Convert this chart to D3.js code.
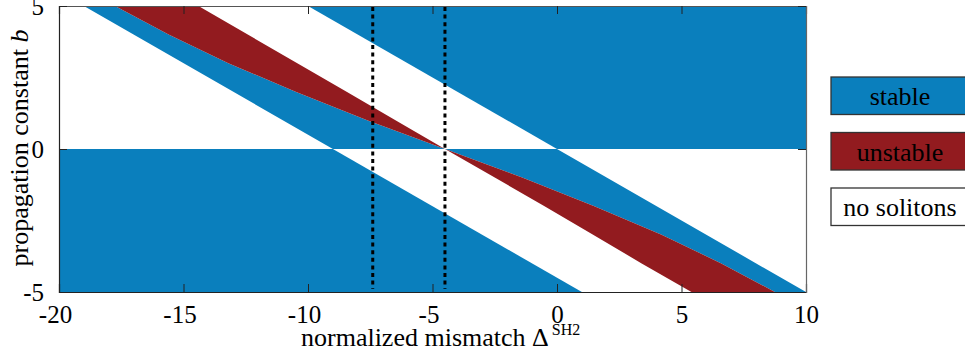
<!DOCTYPE html>
<html>
<head>
<meta charset="utf-8">
<script src="https://cdn.jsdelivr.net/npm/d3@7"></script>
<style>
  html, body { margin: 0; padding: 0; background: #fff; }
  svg { display: block; }
</style>
</head>
<body>
<svg width="965" height="360"></svg>
<script>
// axis ticks
var xTicks = [-20, -15, -10, -5, 0, 5, 10]
var yTicks = [-5, 0, 5]

// boundary lines, as [mismatch, b]
var stableEdgeRight = [[-10, 5], [0, 0], [10, -5]]   // b = -D/2
var stableEdgeLeft = [[-19, 5], [-9, 0], [1, -5]]    // b = -(D+9)/2

// unstable band, upper half (b > 0)
var redTopUpper = [[-14.4, 5], [-12.42, 4], [-10.43, 3], [-8.45, 2], [-6.47, 1], [-4.5, 0]]
var redBotUpper = [[-17.75, 5], [-15.6, 4], [-13.2, 3], [-10.5, 2], [-7.6, 1], [-4.5, 0]]
// unstable band, lower half (b < 0)
var redTopLower = [[-4.5, 0], [-1.4, -1], [1.5, -2], [4.2, -3], [6.6, -4], [8.75, -5]]
var redBotLower = [[-4.5, 0], [-2.5, -1], [-0.5, -2], [1.45, -3], [3.4, -4], [5.4, -5]]

// dotted markers
var markers = [-7.4, -4.5]

var legendItems = [
  { label: 'stable', color: '#0a7fbd' },
  { label: 'unstable', color: '#921b1f' },
  { label: 'no solitons', color: '#ffffff' }
]

var blue = legendItems[0].color
var red = legendItems[1].color
var serif = "'Liberation Serif', 'Times New Roman', serif"

var svg = d3.select('svg').attr('font-family', serif)

var x = d3.scaleLinear().domain([-20, 10]).range([59, 806])
var y = d3.scaleLinear().domain([-5, 5]).range([292, 6])

var line = d3.line()
  .x(function(d) { return x(d[0]) })
  .y(function(d) { return y(d[1]) })

var rev = function(a) { return a.slice().reverse() }

// region polygons built from the boundaries + plot corners
var regions = [
  // stable, top right
  { color: blue, pts: [stableEdgeRight[0], stableEdgeRight[1], [10, 0], [10, 5]] },
  // stable band, upper half
  { color: blue, pts: redBotUpper.concat([stableEdgeLeft[1], stableEdgeLeft[0]]) },
  // unstable, upper half
  { color: red, pts: redTopUpper.concat(rev(redBotUpper)) },
  // stable, bottom left
  { color: blue, pts: [[-20, 0], stableEdgeLeft[1], stableEdgeLeft[2], [-20, -5]] },
  // stable band, lower half
  { color: blue, pts: [stableEdgeRight[1], stableEdgeRight[2]].concat(rev(redTopLower)) },
  // unstable, lower half
  { color: red, pts: redTopLower.concat(rev(redBotLower)) }
]

svg.append('g')
  .selectAll('path')
  .data(regions)
  .enter().append('path')
    .attr('d', function(d) { return line(d.pts) + 'Z' })
    .attr('fill', function(d) { return d.color })

// dotted vertical lines
svg.append('g')
  .selectAll('line')
  .data(markers)
  .enter().append('line')
    .attr('x1', function(d) { return x(d) })
    .attr('x2', function(d) { return x(d) })
    .attr('y1', y(5) + 1)
    .attr('y2', y(-5) - 3)
    .attr('stroke', '#000')
    .attr('stroke-width', 3)
    .attr('stroke-dasharray', '4,3.6')

// axes: ticks point inward, labels on bottom/left only
var tickLen = 8
var fmt = function(d) { return d < 0 ? '-' + Math.abs(d) : d }

var axBottom = svg.append('g')
  .attr('transform', 'translate(0,' + y(-5) + ')')
  .call(d3.axisBottom(x).tickValues(xTicks).tickSize(-tickLen).tickPadding(tickLen + 5).tickFormat(fmt))
var axTop = svg.append('g')
  .attr('transform', 'translate(0,' + y(5) + ')')
  .call(d3.axisTop(x).tickValues(xTicks).tickSize(-tickLen).tickFormat(''))
var axLeft = svg.append('g')
  .attr('transform', 'translate(' + x(-20) + ',0)')
  .call(d3.axisLeft(y).tickValues(yTicks).tickSize(-tickLen).tickPadding(tickLen + 7).tickFormat(fmt))
var axRight = svg.append('g')
  .attr('transform', 'translate(' + x(10) + ',0)')
  .call(d3.axisRight(y).tickValues(yTicks).tickSize(-tickLen).tickFormat(''))

;[axBottom, axTop, axLeft, axRight].forEach(function(g) {
  g.attr('font-family', serif)
  g.select('.domain').attr('stroke', '#222').attr('stroke-width', 1.2)
  g.selectAll('.tick line').attr('stroke', '#222')
  g.selectAll('text').attr('font-family', serif).attr('font-size', 25).attr('fill', '#000')
})
axTop.select('.domain').attr('stroke', '#555')
axRight.select('.domain').attr('stroke', '#666')
// matlab centres the digits, the minus sign hangs left
axBottom.selectAll('.tick text').attr('dx', function(d) { return d < 0 ? -4 : 0 })

// axis titles
var xTitle = svg.append('text')
  .attr('x', 301)
  .attr('y', 346)
  .attr('font-family', serif)
  .attr('font-size', 26)
  .text('normalized mismatch \u0394')
xTitle.append('tspan')
  .attr('font-size', 16)
  .attr('dx', 3)
  .attr('dy', -11)
  .text('SH2')

var yTitle = svg.append('text')
  .attr('transform', 'translate(28,' + 148 + ') rotate(-90)')
  .attr('text-anchor', 'middle')
  .attr('font-family', serif)
  .attr('font-size', 26)
  .text('propagation constant ')
yTitle.append('tspan').attr('font-style', 'italic').text('b')

// legend
var legend = svg.append('g')
  .selectAll('g')
  .data(legendItems)
  .enter().append('g')
    .attr('transform', function(d, i) { return 'translate(831,' + (77 + i * 55.5) + ')' })

legend.append('rect')
  .attr('width', 138)
  .attr('height', 37.5)
  .attr('fill', function(d) { return d.color })
  .attr('stroke', '#333')
  .attr('stroke-width', 1.3)

legend.append('text')
  .attr('x', 69)
  .attr('y', 28)
  .attr('text-anchor', 'middle')
  .attr('font-family', serif)
  .attr('font-size', 26)
  .text(function(d) { return d.label })
</script>
</body>
</html>
